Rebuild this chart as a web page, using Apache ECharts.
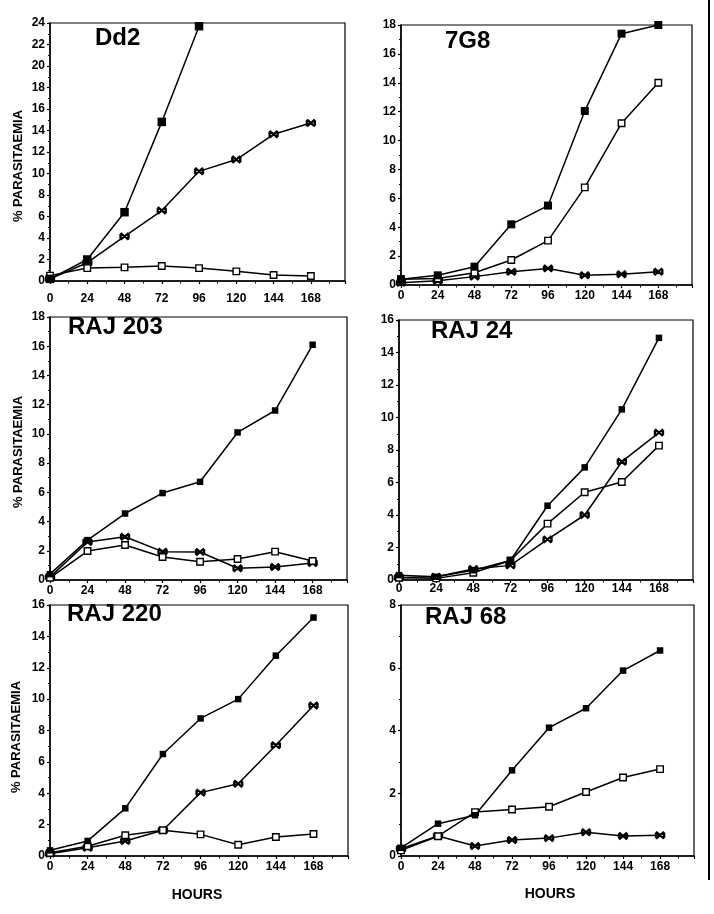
<!DOCTYPE html>
<html>
<head>
<meta charset="utf-8">
<script src="https://cdn.jsdelivr.net/npm/echarts@6/dist/echarts.min.js"></script>
<style>
html,body{margin:0;padding:0;background:#fff;}
#c{width:714px;height:914px;}
</style>
</head>
<body>
<div id="c"></div>
<script>
// ---- data ----
const hours = [0, 24, 48, 72, 96, 120, 144, 168];
const panelNames = ['Dd2', '7G8', 'RAJ 203', 'RAJ 24', 'RAJ 220', 'RAJ 68'];
const yMax = [24, 18, 18, 16, 16, 8];

const dd2Filled = [0.2, 2.0, 6.4, 14.8, 23.7];
const dd2Cross  = [0.2, 1.7, 4.15, 6.55, 10.2, 11.3, 13.65, 14.7];
const dd2Open   = [0.5, 1.2, 1.27, 1.4, 1.2, 0.9, 0.56, 0.46];

const g7Filled = [0.4, 0.67, 1.27, 4.2, 5.5, 12.05, 17.4, 18.0];
const g7Open   = [0.4, 0.45, 0.85, 1.73, 3.07, 6.76, 11.2, 14.0];
const g7Cross  = [0.15, 0.3, 0.58, 0.92, 1.15, 0.67, 0.74, 0.92];

const r203Filled = [0.4, 2.73, 4.55, 5.95, 6.72, 10.1, 11.6, 16.1];
const r203Cross  = [0.2, 2.6, 2.96, 1.94, 1.92, 0.8, 0.89, 1.16];
const r203Open   = [0.15, 1.98, 2.4, 1.57, 1.25, 1.44, 1.94, 1.3];

const r24Filled = [0.3, 0.2, 0.6, 1.2, 4.57, 6.93, 10.5, 14.9];
const r24Open   = [0.14, 0.1, 0.45, 1.2, 3.47, 5.4, 6.03, 8.27];
const r24Cross  = [0.15, 0.2, 0.68, 0.9, 2.5, 4.0, 7.28, 9.07];

const r220Filled = [0.36, 0.96, 3.04, 6.5, 8.77, 10.0, 12.77, 15.2];
const r220Cross  = [0.15, 0.53, 0.96, 1.64, 4.04, 4.6, 7.06, 9.6];
const r220Open   = [0.2, 0.62, 1.32, 1.64, 1.38, 0.72, 1.21, 1.4];

const r68Filled = [0.26, 1.03, 1.3, 2.73, 4.09, 4.71, 5.91, 6.55];
const r68Open   = [0.18, 0.63, 1.4, 1.48, 1.57, 2.04, 2.5, 2.77];
const r68Cross  = [0.23, 0.64, 0.32, 0.51, 0.57, 0.76, 0.64, 0.66];

const panelData = [
  [dd2Filled, dd2Cross, dd2Open],
  [g7Filled, g7Cross, g7Open],
  [r203Filled, r203Cross, r203Open],
  [r24Filled, r24Cross, r24Open],
  [r220Filled, r220Cross, r220Open],
  [r68Filled, r68Cross, r68Open]
];

// ---- layout ----
const FONT = "'Liberation Sans', Arial, Helvetica, sans-serif";
const grids = [
  {left: 50,  top: 23,  width: 295, height: 258},
  {left: 401, top: 25,  width: 291, height: 260},
  {left: 50,  top: 317, width: 297, height: 263},
  {left: 399, top: 320, width: 294, height: 260},
  {left: 50,  top: 605, width: 298, height: 251},
  {left: 401, top: 605, width: 293, height: 251}
];
const filledSize = [8.5, 8, 6.5, 6.5, 6.5, 6.5];
const xLabelMargin = [12, 5, 5, 3, 5, 5];
const titlePos = [[95, 39], [445, 42], [68, 328], [431, 332], [67, 615], [425, 618]];

const crossPath = 'path://M0,0L10,10M10,0L0,10M0,1.5L0,8.5M10,1.5L10,8.5';

const option = {
  animation: false,
  backgroundColor: '#fff',
  grid: [],
  xAxis: [],
  yAxis: [],
  series: [],
  graphic: []
};

grids.forEach((g, i) => {
  option.grid.push(Object.assign({show: true, borderColor: '#000', borderWidth: 1.2, backgroundColor: 'transparent'}, g));
  option.xAxis.push({
    gridIndex: i, type: 'value', min: 0, max: 190, interval: 24,
    axisLine: {lineStyle: {color: '#000', width: 1.5}},
    axisTick: {inside: false, length: 3, lineStyle: {color: '#000', width: 1.2}},
    minorTick: {show: true, splitNumber: 2, length: 2.5, lineStyle: {color: '#000', width: 1}},
    splitLine: {show: false},
    axisLabel: {
      color: '#000', fontFamily: FONT, fontWeight: 'bold', fontSize: 12, margin: xLabelMargin[i],
      formatter: v => (v % 24 === 0 && v <= 168) ? String(v) : ''
    }
  });
  option.yAxis.push({
    gridIndex: i, type: 'value', min: 0, max: yMax[i], interval: 2,
    axisLine: {lineStyle: {color: '#000', width: 1.5}},
    axisTick: {inside: false, length: 3, lineStyle: {color: '#000', width: 1.2}},
    minorTick: {show: true, splitNumber: 2, length: 2, lineStyle: {color: '#000', width: 1}},
    splitLine: {show: false},
    axisLabel: {color: '#000', fontFamily: FONT, fontWeight: 'bold', fontSize: 12, margin: 5}
  });
  const [filled, cross, open] = panelData[i];
  const toPts = arr => arr.map((v, k) => [hours[k], v]);
  const line = {color: '#000', width: 1.5};
  option.series.push({
    type: 'line', xAxisIndex: i, yAxisIndex: i, data: toPts(cross),
    symbol: crossPath, symbolSize: [8, 7], showSymbol: true,
    lineStyle: line,
    itemStyle: {color: '#000', borderColor: '#000', borderWidth: 2.2}
  });
  option.series.push({
    type: 'line', xAxisIndex: i, yAxisIndex: i, data: toPts(open),
    symbol: 'rect', symbolSize: 6.5, showSymbol: true,
    lineStyle: line,
    itemStyle: {color: '#fff', borderColor: '#000', borderWidth: 1.4}
  });
  option.series.push({
    type: 'line', xAxisIndex: i, yAxisIndex: i, data: toPts(filled),
    symbol: 'rect', symbolSize: filledSize[i], showSymbol: true,
    lineStyle: line,
    itemStyle: {color: '#000', borderColor: '#000', borderWidth: 0}
  });
  option.graphic.push({
    type: 'text', left: titlePos[i][0], top: titlePos[i][1] - 13,
    style: {text: panelNames[i], font: 'bold 24px ' + FONT, fill: '#000'}
  });
});

// y-axis names (left column)
[[18, 166], [18, 452], [16, 737]].forEach(p => {
  option.graphic.push({
    type: 'text', x: p[0], y: p[1], rotation: Math.PI / 2,
    style: {text: '% PARASITAEMIA', font: 'bold 13px ' + FONT, fill: '#000', align: 'center', verticalAlign: 'middle'}
  });
});
// x-axis names (bottom row)
[[197, 895], [550, 894]].forEach(p => {
  option.graphic.push({
    type: 'text', x: p[0], y: p[1],
    style: {text: 'HOURS', font: 'bold 14px ' + FONT, fill: '#000', align: 'center', verticalAlign: 'middle'}
  });
});
// scan edge line at right
option.graphic.push({
  type: 'line', shape: {x1: 709, y1: 0, x2: 709, y2: 880},
  style: {stroke: '#000', lineWidth: 2}
});

const chart = echarts.init(document.getElementById('c'), null, {renderer: 'canvas'});
chart.setOption(option);
</script>
</body>
</html>
